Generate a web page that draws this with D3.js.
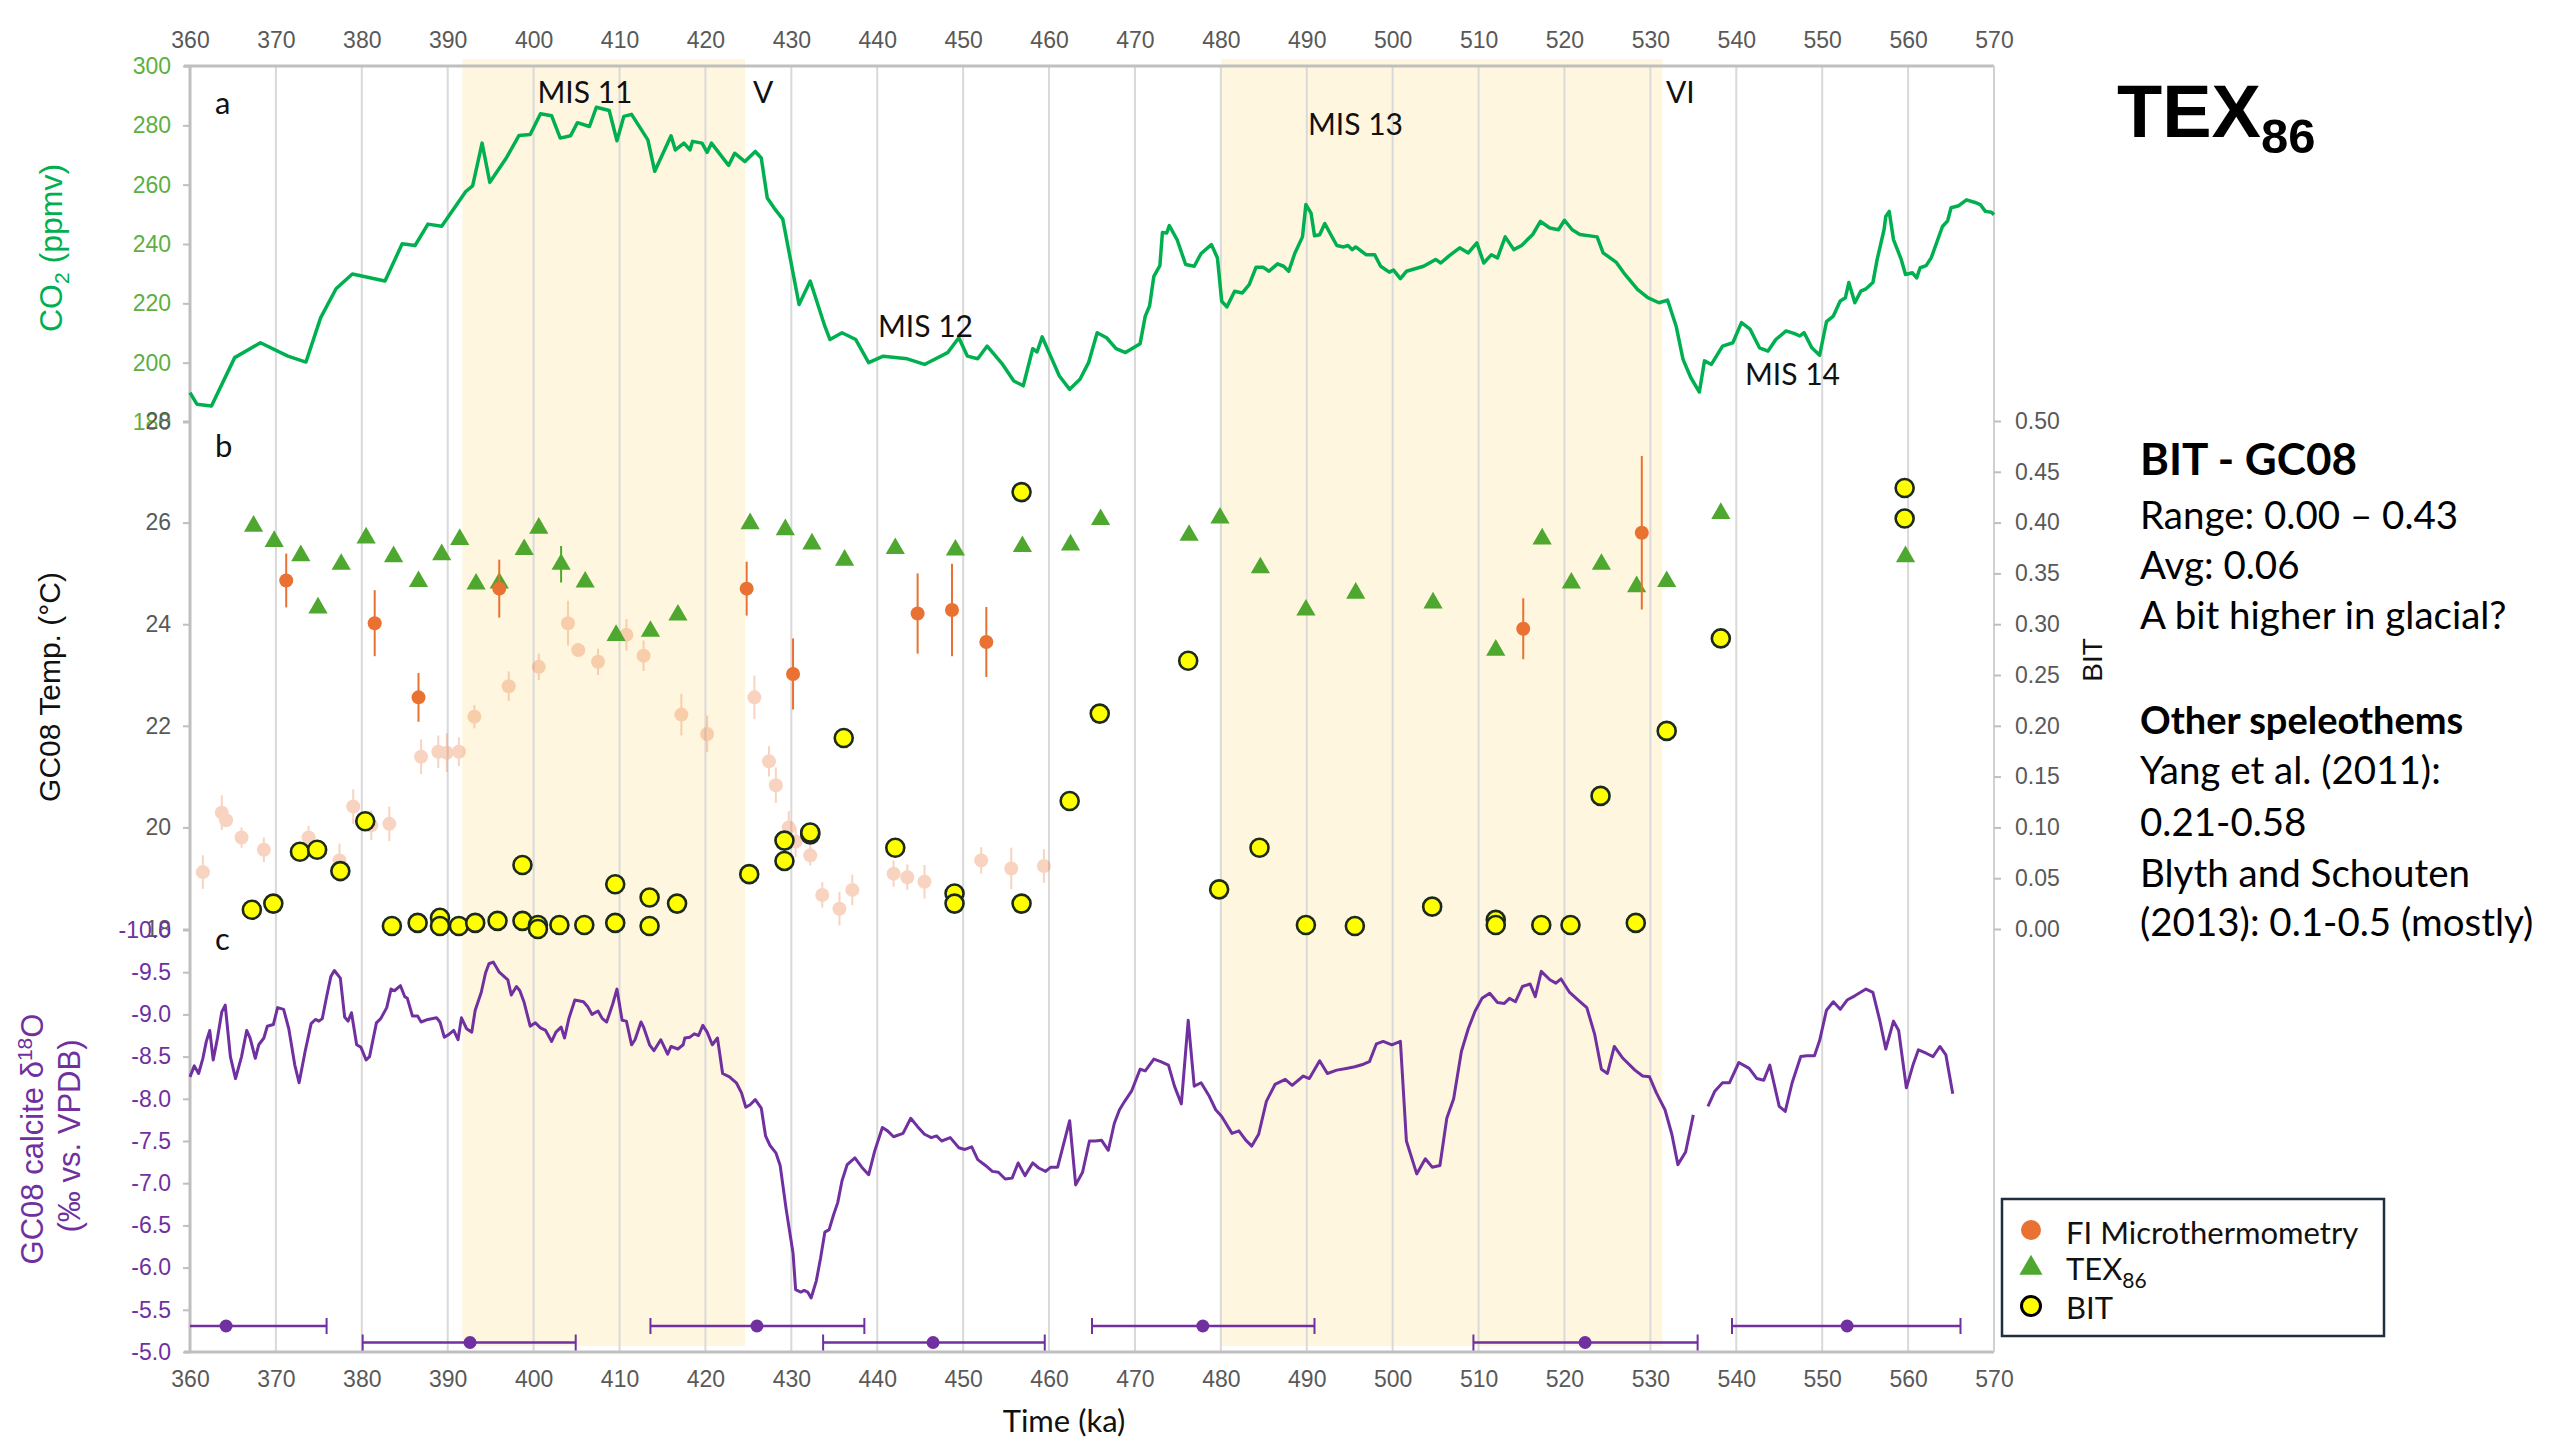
<!DOCTYPE html>
<html>
<head>
<meta charset="utf-8">
<script src="https://cdn.jsdelivr.net/npm/d3@7"></script>
<style>
    body { margin: 0; background: #fff; }
    svg text { font-family: "Liberation Sans", Arial, sans-serif; }
    .lato { font-family: Lato, "Open Sans", sans-serif; }
</style>
</head>
<body>
<div id="chart"></div>
<script>
// ---------- data ----------
var xTicks = d3.range(360, 571, 10);
var co2Ticks = [180, 200, 220, 240, 260, 280, 300];
var tempTicks = [18, 20, 22, 24, 26, 28];
var bitTicks = [0, 0.05, 0.1, 0.15, 0.2, 0.25, 0.3, 0.35, 0.4, 0.45, 0.5];
var d18Ticks = [-10, -9.5, -9, -8.5, -8, -7.5, -7, -6.5, -6, -5.5, -5];

// interglacial shading (MIS 11, MIS 13)
var misStart = [391.7, 480.0];
var misEnd = [424.6, 531.4];

// panel a: CO2 (ppmv)
var co2Age = [360.0, 360.8, 362.5, 365.2, 368.2, 371.4, 373.5, 375.2, 377.0, 378.9, 382.7, 384.7, 386.2, 387.7, 389.3,
    392.1, 392.9, 394.0, 394.9, 396.8, 398.3, 399.6, 400.8, 402.1, 403.1, 404.3, 405.1, 406.5, 407.3, 408.8, 409.7,
    410.5, 411.4, 413.3, 414.1, 416.0, 416.5, 417.5, 418.2, 418.5, 419.6, 420.2, 420.7, 422.7, 423.4, 424.6, 425.8,
    426.5, 427.2, 428.0, 429.0, 430.9, 432.2, 433.9, 434.5, 435.9, 437.5, 439.0, 440.7, 443.5, 445.5, 448.2, 449.5,
    450.5, 451.7, 452.8, 454.6, 455.9, 457.0, 458.1, 458.6, 459.2, 461.2, 462.4, 463.6, 464.6, 465.6, 466.7, 467.8,
    468.9, 470.6, 471.2, 471.7, 472.2, 472.9, 473.2, 473.7, 474.0, 474.9, 475.9, 476.9, 477.7, 478.9, 479.6, 480.1,
    480.7, 481.6, 482.5, 483.3, 484.1, 484.9, 485.6, 486.6, 487.3, 487.9, 488.6, 489.5, 489.9, 490.5, 490.9, 491.5,
    492.1, 492.9, 493.5, 494.3, 494.8, 495.3, 495.7, 496.9, 497.9, 498.6, 499.6, 500.1, 500.9, 501.6, 503.6, 505.0,
    505.6, 506.6, 507.8, 508.8, 509.8, 510.6, 511.5, 512.2, 513.1, 514.1, 515.0, 516.3, 517.2, 518.3, 519.3, 520.0,
    520.9, 521.8, 523.8, 524.5, 526.0, 526.9, 528.5, 529.7, 531.0, 532.0, 533.0, 533.8, 534.7, 535.7, 536.3, 537.1,
    538.4, 539.6, 540.6, 541.6, 542.7, 543.7, 544.6, 545.8, 546.8, 547.4, 547.9, 548.8, 549.7, 550.5, 551.3, 552.1,
    552.7, 553.1, 553.8, 554.5, 555.1, 555.9, 556.4, 557.2, 557.4, 557.8, 558.3, 559.2, 559.7, 560.5, 561.0, 561.4,
    562.1, 562.7, 564.0, 564.6, 565.0, 565.9, 566.8, 567.8, 568.4, 569.0, 569.7, 570.0];
var co2Val = [189.9, 186.0, 185.4, 201.7, 206.7, 202.2, 200.2, 215.1, 224.9, 229.9, 227.5, 240.1, 239.5, 246.7, 246.0,
    257.7, 259.6, 274.0, 260.8, 268.9, 276.6, 276.9, 283.9, 283.2, 275.7, 276.5, 280.9, 279.6, 286.1, 285.0, 274.8,
    283.0, 283.7, 275.1, 264.5, 276.5, 271.7, 274.0, 271.7, 274.6, 274.0, 270.9, 274.0, 266.5, 270.6, 267.8, 271.2,
    269.0, 255.5, 252.1, 248.4, 219.6, 227.5, 212.3, 207.8, 210.1, 207.8, 200.0, 202.2, 201.3, 199.4, 203.4, 208.4,
    202.2, 201.3, 205.6, 199.4, 193.8, 192.2, 204.7, 203.6, 208.7, 195.5, 191.0, 194.4, 200.0, 210.1, 208.4, 204.7,
    203.4, 206.4, 215.7, 219.1, 229.1, 232.7, 243.9, 243.7, 246.2, 241.5, 233.1, 232.5, 236.8, 239.8, 235.3, 220.7,
    218.8, 224.1, 223.5, 226.3, 232.2, 232.2, 230.8, 233.3, 232.5, 230.8, 236.8, 242.4, 253.3, 250.4, 242.8, 243.1,
    246.9, 242.6, 239.5, 239.0, 239.5, 238.1, 239.0, 236.4, 236.4, 232.5, 230.5, 231.2, 228.3, 230.8, 232.5, 234.8,
    233.6, 236.1, 238.7, 237.0, 240.4, 233.6, 236.4, 235.3, 242.4, 238.1, 239.5, 243.2, 247.6, 245.4, 244.8, 248.0,
    244.8, 243.2, 242.4, 237.0, 233.9, 230.3, 224.7, 221.9, 220.2, 221.1, 212.3, 201.1, 195.0, 190.1, 200.6, 199.4,
    205.6, 206.7, 213.5, 211.3, 205.0, 203.9, 207.8, 210.7, 209.8, 209.0, 210.1, 205.0, 202.5, 213.8, 215.7, 220.8,
    221.9, 227.0, 220.2, 224.1, 224.9, 227.0, 234.8, 244.8, 249.3, 251.0, 241.5, 234.8, 229.7, 230.3, 228.6, 232.0,
    232.7, 235.4, 245.9, 247.8, 252.2, 252.9, 254.9, 254.0, 253.3, 251.0, 250.7, 249.9];

// panel b: TEX86 temperature (deg C)
var texAge = [367.4, 369.8, 372.9, 374.9, 377.6, 380.5, 383.7, 386.6, 389.3, 391.4, 393.3, 396.0, 398.9, 400.6, 403.2,
    406.0, 409.6, 413.6, 416.8, 425.2, 429.3, 432.4, 436.2, 442.1, 449.1, 456.9, 462.5, 466.0, 476.3, 479.9, 484.6,
    489.9, 495.7, 504.7, 512.0, 517.4, 520.8, 524.3, 528.4, 531.9, 538.2, 559.7];
var texTemp = [25.93, 25.63, 25.35, 24.32, 25.18, 25.70, 25.33, 24.84, 25.37, 25.67, 24.79, 24.81, 25.47, 25.89, 25.18,
    24.83, 23.78, 23.86, 24.18, 25.98, 25.86, 25.58, 25.26, 25.49, 25.46, 25.53, 25.56, 26.06, 25.75, 26.09, 25.11,
    24.28, 24.61, 24.42, 23.49, 25.68, 24.81, 25.18, 24.74, 24.84, 26.18, 25.33];
var texErr = [0, 0, 0, 0, 0, 0, 0, 0, 0, 0, 0, 0, 0, 0, 0.36,
    0, 0, 0, 0, 0, 0, 0, 0, 0, 0, 0, 0, 0, 0, 0, 0,
    0, 0, 0, 0, 0, 0, 0, 0, 0, 0, 0];

// panel b: FI microthermometry (deg C)
var fiAge = [371.2, 381.5, 386.6, 396.0, 424.8, 430.2, 444.7, 448.7, 452.7, 515.2, 529.0];
var fiTemp = [24.86, 24.02, 22.56, 24.70, 24.70, 23.02, 24.21, 24.28, 23.65, 23.91, 25.80];
var fiErr = [0.53, 0.65, 0.48, 0.57, 0.53, 0.70, 0.79, 0.91, 0.69, 0.60, 1.51];

// panel b: faded FI points in the background
var fiOldAge = [361.5, 363.7, 364.2, 366.0, 368.6, 373.8, 377.4, 379.0, 381.1, 383.2, 386.9, 388.9, 389.9, 391.3, 393.1,
    397.1, 400.6, 404.0, 405.2, 407.5, 410.8, 412.8, 417.2, 420.2, 425.7, 427.4, 428.2, 429.7, 430.5, 432.2, 433.6,
    435.6, 437.1, 441.9, 443.5, 445.5, 452.1, 455.6, 459.4];
var fiOldTemp = [19.12, 20.29, 20.14, 19.80, 19.56, 19.80, 19.35, 20.41, 20.04, 20.07, 21.39, 21.49, 21.47, 21.49, 22.18,
    22.78, 23.16, 24.02, 23.49, 23.26, 23.79, 23.38, 22.22, 21.84, 22.56, 21.30, 20.83, 20.00, 19.72, 19.45, 18.67,
    18.40, 18.77, 19.09, 19.02, 18.93, 19.35, 19.19, 19.24];
var fiOldErr = [0.33, 0.34, 0.10, 0.20, 0.24, 0.23, 0.33, 0.34, 0.29, 0.34, 0.34, 0.32, 0.38, 0.28, 0.23,
    0.29, 0.26, 0.44, 0.10, 0.26, 0.31, 0.30, 0.41, 0.36, 0.43, 0.30, 0.35, 0.32, 0.30, 0.20, 0.25,
    0.33, 0.30, 0.26, 0.25, 0.33, 0.26, 0.41, 0.33];

// panel b: BIT index
var bitAge = [367.2, 369.7, 372.8, 374.8, 377.5, 380.4, 383.5, 386.5, 389.1, 389.1, 391.3, 393.2, 395.8, 398.7, 398.7,
    400.5, 400.5, 403.0, 405.9, 409.5, 409.5, 413.5, 413.5, 416.7, 425.1, 429.2, 429.2, 432.2, 432.2, 436.1, 442.1,
    449.0, 449.0, 456.8, 456.8, 462.4, 465.9, 476.2, 479.8, 484.5, 489.9, 495.6, 504.6, 512.0, 512.0, 517.3, 520.7,
    524.2, 528.3, 531.9, 538.2, 559.6, 559.6];
var bitVal = [0.019, 0.025, 0.076, 0.078, 0.057, 0.106, 0.003, 0.006, 0.011, 0.003, 0.003, 0.006, 0.008, 0.063, 0.008,
    0.004, 0.000, 0.004, 0.004, 0.044, 0.006, 0.031, 0.003, 0.025, 0.054, 0.067, 0.087, 0.093, 0.095, 0.188, 0.080,
    0.035, 0.025, 0.430, 0.025, 0.126, 0.212, 0.264, 0.039, 0.080, 0.004, 0.003, 0.022, 0.009, 0.004, 0.004, 0.004,
    0.131, 0.006, 0.195, 0.286, 0.434, 0.404];

// panel c: GC08 calcite d18O (permil VPDB); null = gap in record
var d18Age = [360.0, 360.5, 361.0, 361.5, 361.9, 362.3, 362.7, 363.2, 363.7, 364.1, 364.7, 365.3, 366.0, 366.6, 367.0,
    367.6, 368.0, 368.6, 369.0, 369.7, 370.2, 370.9, 371.5, 372.2, 372.7, 373.4, 374.1, 374.6, 375.0, 375.4, 375.9,
    376.4, 376.8, 377.5, 378.0, 378.4, 378.8, 379.4, 379.9, 380.5, 380.9, 381.7, 382.2, 382.9, 383.4, 383.8, 384.5,
    385.0, 385.3, 385.9, 386.5, 386.9, 387.7, 388.7, 389.1, 389.6, 390.1, 390.7, 391.2, 391.6, 392.2, 392.8, 393.2,
    393.9, 394.4, 394.8, 395.3, 396.0, 397.0, 397.4, 398.0, 398.4, 398.9, 399.6, 400.2, 400.8, 401.4, 402.1, 402.6,
    403.2, 403.6, 404.1, 404.8, 405.8, 406.3, 406.8, 407.5, 408.0, 408.5, 409.2, 409.7, 410.3, 410.8, 411.4, 411.8,
    412.5, 412.8, 413.5, 414.0, 414.8, 415.6, 416.0, 416.8, 417.4, 417.6, 418.2, 418.7, 419.2, 419.7, 420.2, 420.8,
    421.4, 422.0, 422.8, 423.6, 424.2, 424.7, 425.2, 425.8, 426.5, 427.0, 427.5, 428.2, 428.7, 429.4, 430.2, 430.5,
    431.1, 431.5, 431.9, 432.3, 432.9, 433.4, 433.9, 434.4, 434.9, 435.4, 435.9, 436.5, 437.4, 438.2, 439.0, 439.7,
    440.6, 441.2, 441.9, 443.0, 443.9, 444.7, 445.5, 446.3, 446.9, 447.5, 448.5, 449.5, 450.2, 451.0, 451.7, 452.6,
    453.4, 454.1, 454.9, 455.7, 456.4, 457.2, 458.1, 458.8, 459.6, 460.2, 461.0, 462.4, 463.1, 463.9, 464.7, 465.4,
    466.1, 466.9, 467.6, 468.2, 468.8, 469.6, 470.6, 471.2, 472.2, 473.0, 473.9, 474.6, 475.4, 476.2, 476.9, 477.7,
    478.6, 479.4, 480.1, 481.3, 482.1, 482.9, 483.6, 484.4, 485.3, 486.3, 487.5, 488.3, 489.6, 490.3, 491.5, 492.4,
    493.5, 494.6, 495.6, 496.6, 497.3, 498.1, 498.9, 499.9, 500.9, 501.6, 502.8, 503.8, 504.6, 505.5, 506.3, 507.1,
    508.0, 508.8, 509.6, 510.4, 511.3, 512.2, 513.0, 513.6, 514.3, 515.1, 516.0, 516.6, 517.3, 518.3, 519.0, 519.6,
    520.6, 521.6, 522.6, 523.5, 524.3, 525.0, 525.8, 526.8, 528.2, 529.1, 529.9, 530.7, 531.7, 532.5, 533.2, 534.1,
    535.0, 535.8, 536.7, 537.5, 538.4, 539.2, 540.3, 541.5, 542.4, 543.2, 543.9, 545.0, 545.7, 546.5, 547.5, 548.2,
    549.1, 549.7, 550.5, 551.3, 552.1, 552.9, 553.8, 555.1, 555.9, 556.7, 557.4, 558.3, 558.9, 559.8, 560.6, 561.2,
    562.1, 562.9, 563.7, 564.4, 565.2];
var d18Val = [-8.26, -8.39, -8.30, -8.48, -8.68, -8.81, -8.46, -8.72, -9.03, -9.11, -8.50, -8.24, -8.50, -8.81, -8.72,
    -8.48, -8.64, -8.72, -8.86, -8.88, -9.08, -9.06, -8.83, -8.40, -8.19, -8.56, -8.89, -8.94, -8.92, -8.95, -9.21,
    -9.45, -9.52, -9.43, -8.97, -8.92, -9.02, -8.64, -8.61, -8.46, -8.50, -8.90, -8.95, -9.08, -9.30, -9.28, -9.34,
    -9.21, -9.19, -8.98, -8.98, -8.91, -8.94, -8.96, -8.91, -8.73, -8.76, -8.81, -8.70, -8.96, -8.83, -8.79, -9.05,
    -9.26, -9.49, -9.60, -9.62, -9.50, -9.41, -9.23, -9.33, -9.28, -9.14, -8.86, -8.90, -8.84, -8.81, -8.68, -8.79,
    -8.85, -8.72, -8.95, -9.17, -9.15, -9.09, -9.00, -9.04, -8.95, -8.91, -9.12, -9.30, -8.93, -8.92, -8.64, -8.70,
    -8.91, -8.85, -8.64, -8.57, -8.70, -8.53, -8.62, -8.59, -8.64, -8.72, -8.73, -8.77, -8.75, -8.87, -8.79, -8.64,
    -8.72, -8.30, -8.26, -8.19, -8.07, -7.90, -7.93, -7.99, -7.89, -7.56, -7.45, -7.36, -7.21, -6.69, -6.17, -5.74,
    -5.71, -5.73, -5.71, -5.64, -5.84, -6.11, -6.42, -6.45, -6.62, -6.77, -7.03, -7.22, -7.30, -7.19, -7.10, -7.38,
    -7.66, -7.62, -7.55, -7.59, -7.77, -7.67, -7.58, -7.54, -7.56, -7.50, -7.54, -7.42, -7.40, -7.43, -7.28, -7.21,
    -7.14, -7.13, -7.05, -7.06, -7.24, -7.09, -7.24, -7.18, -7.14, -7.19, -7.19, -7.74, -6.98, -7.13, -7.50, -7.50,
    -7.51, -7.39, -7.71, -7.87, -7.97, -8.09, -8.35, -8.33, -8.47, -8.44, -8.40, -8.15, -7.94, -8.93, -8.15, -8.19,
    -8.04, -7.87, -7.79, -7.59, -7.62, -7.51, -7.44, -7.58, -7.97, -8.17, -8.23, -8.16, -8.27, -8.24, -8.45, -8.30,
    -8.34, -8.36, -8.38, -8.41, -8.44, -8.65, -8.68, -8.64, -8.68, -7.50, -7.11, -7.29, -7.19, -7.21, -7.77, -8.00,
    -8.56, -8.83, -9.04, -9.19, -9.25, -9.14, -9.13, -9.19, -9.15, -9.33, -9.36, -9.21, -9.51, -9.41, -9.37, -9.42,
    -9.26, -9.17, -9.08, -8.77, -8.35, -8.30, -8.62, -8.48, -8.34, -8.27, -8.26, -8.07, -7.87, -7.58, -7.22, -7.37,
    -7.81, null, -7.91, -8.09, -8.19, -8.19, -8.43, -8.36, -8.24, -8.22, -8.40, -7.91, -7.85, -8.19, -8.50, -8.51,
    -8.51, -8.69, -9.05, -9.15, -9.06, -9.17, -9.22, -9.30, -9.26, -8.93, -8.59, -8.92, -8.81, -8.13, -8.41, -8.58,
    -8.54, -8.50, -8.62, -8.52, -8.06];

// U-Th ages with 2-sigma ranges (ka)
var datAge = [364.2, 392.6, 426.0, 446.5, 477.9, 522.4, 552.9];
var datLo = [352.6, 380.1, 413.6, 433.7, 465.0, 509.4, 539.5];
var datHi = [375.9, 404.9, 438.5, 459.5, 490.9, 535.5, 566.1];

// labels
var misLabels = ["MIS 11", "V", "MIS 12", "MIS 13", "VI", "MIS 14"];
var noteLines = ["BIT - GC08", "Range: 0.00 \u2013 0.43", "Avg: 0.06", "A bit higher in glacial?", "",
    "Other speleothems", "Yang et al. (2011):", "0.21-0.58", "Blyth and Schouten", "(2013): 0.1-0.5 (mostly)"];
var legendNames = ["FI Microthermometry", "TEX", "BIT"];

// ---------- colours ----------
var GREEN_LINE = "#00B050", GREEN_TICK = "#5DAF41", PURPLE = "#7030A0", ORANGE = "#E97132",
    TRI = "#4EA72E", GRID = "#D9D9D9", AXIS = "#BFBFBF", TICKTXT = "#595959";

// ---------- svg + scales ----------
var W = 2554, H = 1440;
var svg = d3.select("#chart").append("svg").attr("width", W).attr("height", H);

var x = d3.scaleLinear().domain([360, 570]).range([190, 1994]);
var yCO2 = d3.scaleLinear().domain([180, 300]).range([422, 66]);
var yT = d3.scaleLinear().domain([18, 28]).range([929, 421]);
var yBIT = d3.scaleLinear().domain([0, 0.5]).range([929, 421]);
var yD = d3.scaleLinear().domain([-10, -5]).range([930, 1352]);

svg.append("clipPath").attr("id", "plotClip")
    .append("rect").attr("x", 190).attr("y", 50).attr("width", 1804).attr("height", 1310);

// interglacial shading
svg.selectAll("rect.mis")
    .data(misStart.map(function (d, i) { return [d, misEnd[i]]; }))
    .enter().append("rect")
    .attr("class", "mis")
    .attr("x", function (d) { return x(d[0]); })
    .attr("width", function (d) { return x(d[1]) - x(d[0]); })
    .attr("y", 59).attr("height", 1287)
    .attr("fill", "#FFF6DF");

// vertical grid lines
svg.append("g").selectAll("line")
    .data(xTicks.slice(1))
    .enter().append("line")
    .attr("x1", function (d) { return x(d); }).attr("x2", function (d) { return x(d); })
    .attr("y1", 66).attr("y2", 1352)
    .attr("stroke", GRID).attr("stroke-width", 2);

// frame lines
svg.append("line").attr("x1", 184).attr("x2", 1994).attr("y1", 66).attr("y2", 66)
    .attr("stroke", AXIS).attr("stroke-width", 3);
svg.append("line").attr("x1", 184).attr("x2", 1994).attr("y1", 1352).attr("y2", 1352)
    .attr("stroke", AXIS).attr("stroke-width", 3);
svg.append("line").attr("x1", 190).attr("x2", 190).attr("y1", 66).attr("y2", 1352)
    .attr("stroke", AXIS).attr("stroke-width", 3);

// style helper for axes
function styleAxis(g, color) {
    g.select(".domain").remove();
    g.selectAll(".tick line").attr("stroke", AXIS).attr("stroke-width", 2);
    g.selectAll(".tick text")
        .attr("fill", color)
        .style("font-family", "'Liberation Sans', Arial, sans-serif")
        .style("font-size", "23px");
}

// x axes (top and bottom)
svg.append("g").attr("transform", "translate(0,66)")
    .call(d3.axisTop(x).tickValues(xTicks).tickSize(0).tickPadding(18).tickFormat(d3.format("d")))
    .call(styleAxis, TICKTXT);
svg.append("g").attr("transform", "translate(0,1352)")
    .call(d3.axisBottom(x).tickValues(xTicks).tickSize(0).tickPadding(19).tickFormat(d3.format("d")))
    .call(styleAxis, TICKTXT);

// left y axes
svg.append("g").attr("transform", "translate(190,0)")
    .call(d3.axisLeft(yCO2).tickValues(co2Ticks).tickSize(7).tickPadding(12))
    .call(styleAxis, GREEN_TICK);
svg.append("g").attr("transform", "translate(190,0)")
    .call(d3.axisLeft(yT).tickValues(tempTicks).tickSize(7).tickPadding(12))
    .call(styleAxis, TICKTXT);
svg.append("g").attr("transform", "translate(190,0)")
    .call(d3.axisLeft(yD).tickValues(d18Ticks).tickSize(7).tickPadding(12)
        .tickFormat(function (d) { return d.toFixed(1); }))
    .call(styleAxis, PURPLE);

// right BIT axis
svg.append("line").attr("x1", 1994).attr("x2", 1994).attr("y1", 66).attr("y2", 1352)
    .attr("stroke", "#D0D0D0").attr("stroke-width", 2);
svg.append("g").attr("transform", "translate(1994,0)")
    .call(d3.axisRight(yBIT).tickValues(bitTicks).tickSize(7).tickPadding(14)
        .tickFormat(function (d) { return d.toFixed(2); }))
    .call(styleAxis, TICKTXT);

// ---------- panel a: CO2 ----------
svg.append("path")
    .datum(co2Age.map(function (a, i) { return [a, co2Val[i]]; }))
    .attr("fill", "none").attr("stroke", GREEN_LINE).attr("stroke-width", 3.5)
    .attr("stroke-linejoin", "round")
    .attr("d", d3.line().x(function (d) { return x(d[0]); }).y(function (d) { return yCO2(d[1]); }));

// ---------- panel b: temperatures and BIT ----------
var bLayer = svg.append("g");

// faded FI values
var faded = bLayer.append("g").attr("opacity", 0.3);
faded.selectAll("line")
    .data(fiOldAge).enter().append("line")
    .attr("x1", function (d) { return x(d); }).attr("x2", function (d) { return x(d); })
    .attr("y1", function (d, i) { return yT(fiOldTemp[i] + fiOldErr[i]); })
    .attr("y2", function (d, i) { return yT(fiOldTemp[i] - fiOldErr[i]); })
    .attr("stroke", ORANGE).attr("stroke-width", 2);
faded.selectAll("circle")
    .data(fiOldAge).enter().append("circle")
    .attr("cx", function (d) { return x(d); })
    .attr("cy", function (d, i) { return yT(fiOldTemp[i]); })
    .attr("r", 7).attr("fill", ORANGE);

// TEX86 triangles
bLayer.append("g").selectAll("line")
    .data(texAge.filter(function (d, i) { return texErr[i] > 0; }))
    .enter().append("line")
    .attr("x1", function (d) { return x(d); }).attr("x2", function (d) { return x(d); })
    .attr("y1", function (d) { var i = texAge.indexOf(d); return yT(texTemp[i] + texErr[i]); })
    .attr("y2", function (d) { var i = texAge.indexOf(d); return yT(texTemp[i] - texErr[i]); })
    .attr("stroke", TRI).attr("stroke-width", 2);
var triSym = d3.symbol().type(d3.symbolTriangle).size(160);
bLayer.append("g").selectAll("path")
    .data(texAge).enter().append("path")
    .attr("d", triSym)
    .attr("transform", function (d, i) { return "translate(" + x(d) + "," + yT(texTemp[i]) + ")"; })
    .attr("fill", TRI);

// FI microthermometry with error bars
bLayer.append("g").selectAll("line")
    .data(fiAge).enter().append("line")
    .attr("x1", function (d) { return x(d); }).attr("x2", function (d) { return x(d); })
    .attr("y1", function (d, i) { return yT(fiTemp[i] + fiErr[i]); })
    .attr("y2", function (d, i) { return yT(fiTemp[i] - fiErr[i]); })
    .attr("stroke", ORANGE).attr("stroke-width", 2);
bLayer.append("g").selectAll("circle")
    .data(fiAge).enter().append("circle")
    .attr("cx", function (d) { return x(d); })
    .attr("cy", function (d, i) { return yT(fiTemp[i]); })
    .attr("r", 7).attr("fill", ORANGE);

// BIT circles
bLayer.append("g").selectAll("circle")
    .data(bitAge).enter().append("circle")
    .attr("cx", function (d) { return x(d); })
    .attr("cy", function (d, i) { return yBIT(bitVal[i]); })
    .attr("r", 9)
    .attr("fill", "#FFFF00").attr("stroke", "#1b2a1b").attr("stroke-width", 2.6);

// ---------- panel c: d18O ----------
svg.append("path")
    .datum(d18Age.map(function (a, i) { return [a, d18Val[i]]; }))
    .attr("fill", "none").attr("stroke", PURPLE).attr("stroke-width", 3)
    .attr("stroke-linejoin", "round")
    .attr("d", d3.line()
        .defined(function (d) { return d[1] !== null; })
        .x(function (d) { return x(d[0]); })
        .y(function (d) { return yD(d[1]); }));

// U-Th ages (alternating rows)
var ages = svg.append("g").attr("clip-path", "url(#plotClip)");
datAge.forEach(function (a, i) {
    var yy = i % 2 === 0 ? 1326 : 1342.5;
    ages.append("line").attr("x1", x(datLo[i])).attr("x2", x(datHi[i])).attr("y1", yy).attr("y2", yy)
        .attr("stroke", PURPLE).attr("stroke-width", 2.5);
    [datLo[i], datHi[i]].forEach(function (e) {
        ages.append("line").attr("x1", x(e)).attr("x2", x(e)).attr("y1", yy - 8).attr("y2", yy + 8)
            .attr("stroke", PURPLE).attr("stroke-width", 2);
    });
    ages.append("circle").attr("cx", x(a)).attr("cy", yy).attr("r", 6.5).attr("fill", PURPLE);
});

// ---------- text ----------
function label(txt, px, py, size, anchor) {
    return svg.append("text").attr("class", "lato")
        .attr("x", px).attr("y", py)
        .attr("text-anchor", anchor || "start")
        .style("font-size", size + "px")
        .attr("fill", "#111")
        .text(txt);
}
label("a", 215, 114, 31);
label("b", 215, 457, 31);
label("c", 215, 950, 31);
label(misLabels[0], 585, 103, 30, "middle");
label(misLabels[1], 753, 103, 30);
label(misLabels[2], 878, 337, 30);
label(misLabels[3], 1308, 135, 30);
label(misLabels[4], 1666, 103, 30);
label(misLabels[5], 1745, 385, 30);
label("Time (ka)", 1064, 1432, 31, "middle");

// axis titles (rotated)
var co2Title = svg.append("text")
    .attr("transform", "translate(62,248) rotate(-90)")
    .attr("text-anchor", "middle").attr("fill", GREEN_LINE)
    .style("font-size", "32px");
co2Title.append("tspan").text("CO");
co2Title.append("tspan").attr("dy", 7).style("font-size", "21px").text("2");
co2Title.append("tspan").attr("dy", -7).text(" (ppmv)");

svg.append("text")
    .attr("transform", "translate(60,687) rotate(-90)")
    .attr("text-anchor", "middle").attr("fill", "#111")
    .style("font-size", "30px")
    .text("GC08 Temp. (\u00B0C)");

var dTitle = svg.append("text")
    .attr("transform", "translate(43,1139) rotate(-90)")
    .attr("text-anchor", "middle").attr("fill", PURPLE)
    .style("font-size", "31px");
dTitle.append("tspan").text("GC08 calcite \u03B4");
dTitle.append("tspan").attr("dy", -11).style("font-size", "21px").text("18");
dTitle.append("tspan").attr("dy", 11).text("O");
svg.append("text")
    .attr("transform", "translate(80,1136) rotate(-90)")
    .attr("text-anchor", "middle").attr("fill", PURPLE)
    .style("font-size", "31px")
    .text("(\u2030 vs. VPDB)");

svg.append("text")
    .attr("transform", "translate(2102,660) rotate(-90)")
    .attr("text-anchor", "middle").attr("fill", "#111")
    .style("font-size", "28px")
    .text("BIT");

// big title
var title = svg.append("text").attr("x", 2117).attr("y", 137)
    .attr("fill", "#000").style("font-weight", "bold").style("font-size", "74px");
title.append("tspan").text("TEX");
title.append("tspan").attr("dy", 16).style("font-size", "49px").text("86");

// notes on the right
var noteY = [475, 529, 579, 629, 680, 734, 784, 836, 887, 936];
noteLines.forEach(function (t, i) {
    if (!t) return;
    var bold = (i === 0 || i === 5);
    svg.append("text").attr("class", "lato")
        .attr("x", 2140).attr("y", noteY[i])
        .attr("fill", "#000")
        .style("font-weight", bold ? "bold" : "normal")
        .style("font-size", (i === 0 ? 44 : (bold ? 38 : 38.5)) + "px")
        .text(t);
});

// legend
var lg = svg.append("g");
lg.append("rect").attr("x", 2002).attr("y", 1199).attr("width", 382).attr("height", 137)
    .attr("fill", "#fff").attr("stroke", "#1F2F3F").attr("stroke-width", 2.5);
lg.append("circle").attr("cx", 2031).attr("cy", 1230).attr("r", 10).attr("fill", ORANGE);
lg.append("path").attr("d", d3.symbol().type(d3.symbolTriangle).size(230))
    .attr("transform", "translate(2031,1268)").attr("fill", TRI);
lg.append("circle").attr("cx", 2031).attr("cy", 1306).attr("r", 9.5)
    .attr("fill", "#FFFF00").attr("stroke", "#000").attr("stroke-width", 3);
var lgY = [1244, 1280, 1319];
legendNames.forEach(function (t, i) {
    var tx = lg.append("text").attr("class", "lato")
        .attr("x", 2066).attr("y", lgY[i]).attr("fill", "#111")
        .style("font-size", "31px");
    tx.append("tspan").text(t);
    if (t === "TEX") tx.append("tspan").attr("dy", 8).style("font-size", "21px").text("86");
});
</script>
</body>
</html>
